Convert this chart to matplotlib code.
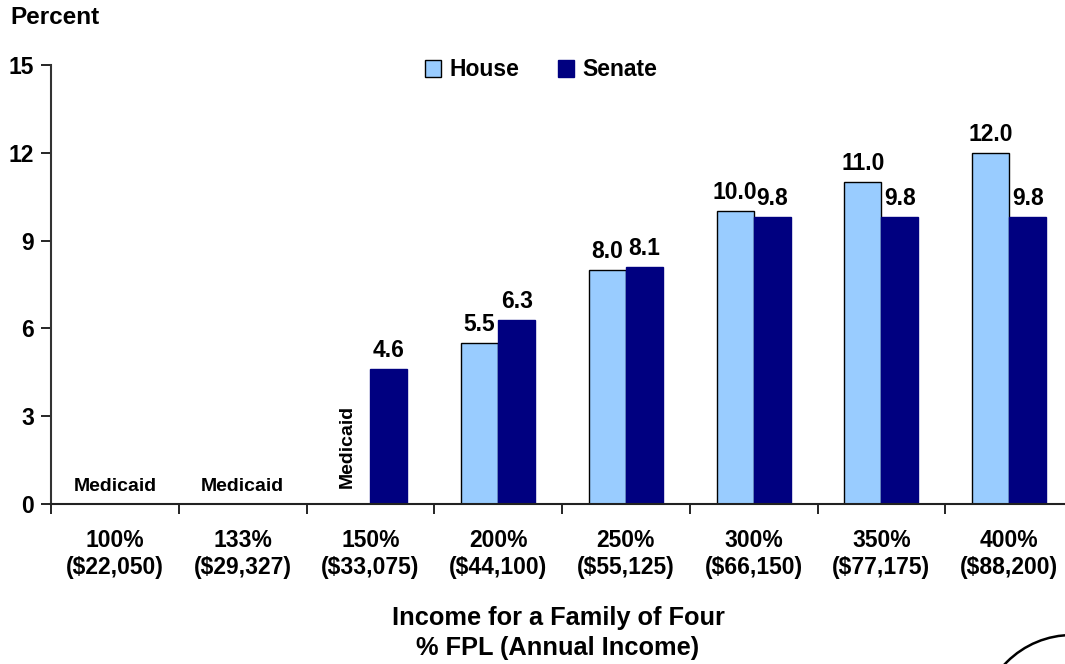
import numpy as np
import matplotlib
matplotlib.use("Agg")
import matplotlib.pyplot as plt
from matplotlib.patches import Ellipse, Patch

plt.rcParams['font.family'] = ['Liberation Sans', 'DejaVu Sans']
plt.rcParams['font.weight'] = 'bold'

categories = ["100%\n($22,050)", "133%\n($29,327)", "150%\n($33,075)", "200%\n($44,100)",
              "250%\n($55,125)", "300%\n($66,150)", "350%\n($77,175)", "400%\n($88,200)"]
house = [np.nan, np.nan, np.nan, 5.5, 8.0, 10.0, 11.0, 12.0]
senate = [np.nan, np.nan, 4.6, 6.3, 8.1, 9.8, 9.8, 9.8]
yticks = [0, 3, 6, 9, 12, 15]

house_color = "#99CCFF"
senate_color = "#000080"

W, H = 1065, 664
fig = plt.figure(figsize=(W / 100, H / 100), dpi=100)
left, right, bottom, top = 51, 1073, 504, 65
ax = fig.add_axes([left / W, (H - bottom) / H, (right - left) / W, (bottom - top) / H])

x = np.arange(len(categories))
bw = 0.29
ax.bar(x - bw / 2, house, bw, color=house_color, edgecolor="black", linewidth=1.0)
ax.bar(x + bw / 2, senate, bw, color=senate_color, edgecolor=senate_color, linewidth=1.0)

for xi, v in zip(x, house):
    if not np.isnan(v):
        ax.annotate(f"{v:.1f}", (xi - bw / 2, v), xytext=(0, 5), textcoords="offset points",
                    ha="center", va="bottom", fontsize=16.5, fontweight="bold")
for xi, v in zip(x, senate):
    if not np.isnan(v):
        ax.annotate(f"{v:.1f}", (xi + bw / 2, v), xytext=(0, 5), textcoords="offset points",
                    ha="center", va="bottom", fontsize=16.5, fontweight="bold")

# Medicaid notes
for xi in [0, 1]:
    ax.text(xi, 0.3, "Medicaid", ha="center", va="bottom", fontsize=14, fontweight="bold")
ax.text(2 - bw / 2 - 0.035, 0.55, "Medicaid", ha="center", va="bottom", rotation=90,
        fontsize=14, fontweight="bold")

ax.set_xlim(-0.5, 7.5)
ax.set_ylim(0, 15)
ax.set_yticks(yticks)
ax.set_yticklabels([str(t) for t in yticks], fontsize=16.5, fontweight="bold")
ax.set_xticks(np.arange(-0.5, 8.0, 1.0))
ax.set_xticklabels([])
ax.set_xticks(x, minor=True)
ax.set_xticklabels(categories, minor=True, fontsize=16.5, fontweight="bold", linespacing=1.2)
ax.tick_params(axis="x", which="minor", length=0, pad=18)
ax.tick_params(axis="x", which="major", length=7, width=1.2, direction="out")
ax.tick_params(axis="y", length=7, width=1.2, direction="out", pad=5)

for s in ["top", "right"]:
    ax.spines[s].set_visible(False)
ax.spines["left"].set_linewidth(1.5)
ax.spines["bottom"].set_linewidth(1.5)
ax.spines["left"].set_color("#333333")
ax.spines["bottom"].set_color("#222222")

handles = [Patch(facecolor=house_color, edgecolor="black", linewidth=1.0),
           Patch(facecolor=senate_color, edgecolor=senate_color)]
fig.legend(handles, ["House", "Senate"], loc="center", bbox_to_anchor=(541 / W, 1 - 70 / H),
           ncol=2, frameon=False, handlelength=0.7, handleheight=0.7,
           handletextpad=0.35, columnspacing=1.7, prop={"weight": "bold", "size": 16.5})

fig.text(10 / W, 1 - 17 / H, "Percent", ha="left", va="center", fontsize=17.5, fontweight="bold")
fig.text(558 / W, 1 - 633 / H, "Income for a Family of Four\n% FPL (Annual Income)",
         ha="center", va="center", fontsize=18.3, fontweight="bold", linespacing=1.35)

circ = Ellipse((1072 / W, 1 - 727 / H), 184 / W, 184 / H, transform=fig.transFigure,
               fill=False, edgecolor="black", linewidth=1.8, clip_on=False)
fig.add_artist(circ)

fig.savefig("out.png", dpi=100)
